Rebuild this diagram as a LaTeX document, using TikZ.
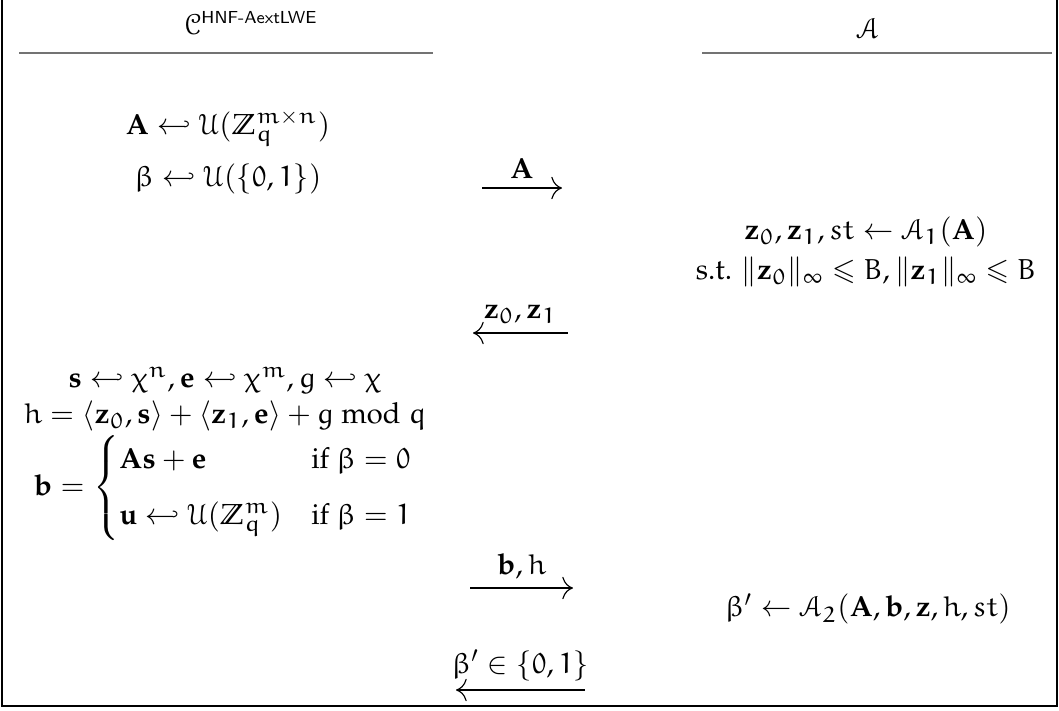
\documentclass[tikz,border=0pt]{standalone}
\usepackage{amsmath,amssymb}
\usepackage[T1]{fontenc}
\usepackage{mathpazo}
\usepackage[mathcal]{euscript}
% Euler letters and digits for math
\DeclareSymbolFont{letters}{U}{eur}{m}{n}
\SetSymbolFont{letters}{bold}{U}{eur}{b}{n}
\DeclareSymbolFont{cmletters}{OML}{cmm}{m}{it}
\DeclareMathSymbol{\rhook}{\mathrel}{cmletters}{"2D}
\DeclareMathSymbol{0}{\mathord}{letters}{`0}
\DeclareMathSymbol{1}{\mathord}{letters}{`1}
\DeclareMathSymbol{2}{\mathord}{letters}{`2}
\newcommand{\gamename}[1]{\text{\fontencoding{OT1}\fontfamily{cmss}\fontsize{6.5}{7}\selectfont #1}}
\usepackage{tikz}
\usetikzlibrary{positioning,arrows.meta}

\begin{document}
\begin{tikzpicture}[x=0.345pt, y=-0.345pt,
  txt/.style={inner sep=0pt},
  hdrule/.style={draw=black!55, line width=0.45pt},
  frame/.style={line width=0.7pt},
  msgr/.style={-{To[length=1.3mm]}, line width=0.4pt},
  msgl/.style={{To[length=1.3mm]}-, line width=0.4pt},
  lbl/.style={above, inner sep=3pt},
]
  \useasboundingbox (0,0) rectangle (1059,710);
  \draw[frame] (2,0) -- (2,706) -- (1057,706) -- (1057,0);

  % headers
  \node[txt] (hdrC) at (251,23) {$\mathcal{C}^{\gamename{HNF-AextLWE}}$};
  \node[txt] (hdrA) at (868,28) {$\mathcal{A}$};
  \draw[hdrule] (19,53) -- (433,53);
  \draw[hdrule] (702,53) -- (1052,53);

  % challenger
  \node[txt] (sampA) at (228,128) {$\mathbf{A} \hookleftarrow \mathcal{U}(\mathbb{Z}_q^{m\times n})$};
  \node[txt] (sampB) at (228,179) {$\beta \hookleftarrow \mathcal{U}(\{0,1\})$};
  \node[txt] (noise) at (225,380) {$\mathbf{s} \hookleftarrow \chi^n, \mathbf{e} \hookleftarrow \chi^m, g \hookleftarrow \chi$};
  \node[txt] (hint)  at (225,416) {$h = \langle \mathbf{z}_0, \mathbf{s}\rangle + \langle \mathbf{z}_1, \mathbf{e}\rangle + g \bmod q$};
  \node[txt] (chal)  at (224,488) {$\mathbf{b} = \begin{cases}
      \mathbf{A}\mathbf{s} + \mathbf{e} & \text{if } \beta = 0\\[5pt]
      \mathbf{u} \hookleftarrow \mathcal{U}(\mathbb{Z}_q^m) & \text{if } \beta = 1
    \end{cases}$};

  % adversary
  \node[txt] (adv1)  at (866,232) {$\mathbf{z}_0, \mathbf{z}_1, st \leftarrow \mathcal{A}_1(\mathbf{A})$};
  \node[txt] (bound) at (866,272) {s.t. $\|\mathbf{z}_0\|_\infty \leqslant B, \|\mathbf{z}_1\|_\infty \leqslant B$};
  \node[txt] (adv2)  at (868,609) {$\beta' \leftarrow \mathcal{A}_2(\mathbf{A}, \mathbf{b}, \mathbf{z}, h, st)$};

  % messages
  \coordinate (m1a) at (482,188); \coordinate (m1b) at (562,188);
  \coordinate (m2a) at (473,333); \coordinate (m2b) at (568,333);
  \coordinate (m3a) at (470,588); \coordinate (m3b) at (573,588);
  \coordinate (m4a) at (456,690); \coordinate (m4b) at (585,690);
  \draw[msgr] (m1a) -- node[lbl] {$\mathbf{A}$} (m1b);
  \draw[msgl] (m2a) -- node[lbl] {$\mathbf{z}_0, \mathbf{z}_1$} (m2b);
  \draw[msgr] (m3a) -- node[lbl] {$\mathbf{b}, h$} (m3b);
  \draw[msgl] (m4a) -- node[lbl] {$\beta' \in \{0,1\}$} (m4b);
\end{tikzpicture}
\end{document}
